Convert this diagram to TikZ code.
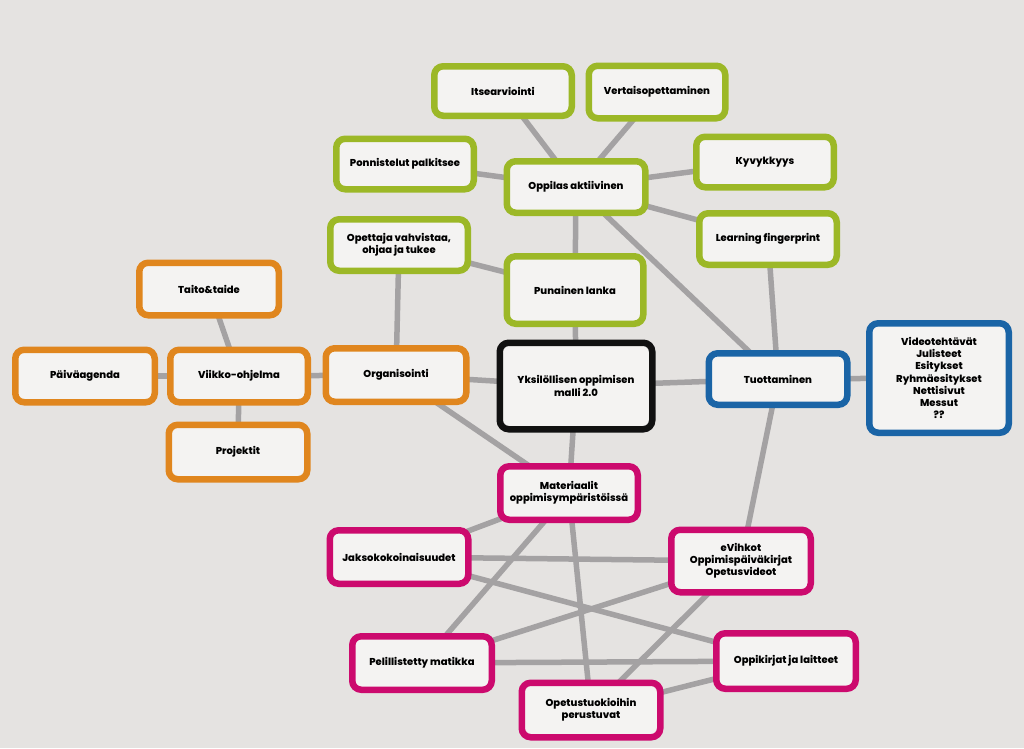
\documentclass[tikz,border=0pt]{standalone}
\usepackage{fontspec}
\setmainfont{Poppins}[BoldFont={Poppins ExtraBold}]
\definecolor{bgc}{HTML}{E5E3E1}
\definecolor{boxfill}{HTML}{F4F3F2}
\definecolor{edgec}{HTML}{A4A2A3}
\definecolor{cgreen}{HTML}{9CB827}
\definecolor{corange}{HTML}{E0861E}
\definecolor{cblue}{HTML}{1A64A6}
\definecolor{cmag}{HTML}{CC0A6E}
\definecolor{cblack}{HTML}{111111}
\pgfdeclarelayer{bg}
\pgfdeclarelayer{edges}
\pgfsetlayers{bg,edges,main}
\tikzset{
  box/.style={draw, rounded corners=9pt, line width=6.5pt, fill=boxfill, align=center,
    inner sep=2pt, font=\fontsize{10}{12.2}\selectfont\bfseries, text=black},
  gbox/.style={box, draw=cgreen},
  obox/.style={box, draw=corange},
  bbox/.style={box, draw=cblue},
  mbox/.style={box, draw=cmag},
  kbox/.style={box, draw=cblack},
  link/.style={draw=edgec, line width=5.5pt}
}
\begin{document}
\begin{tikzpicture}[x=1pt,y=-1pt]
\begin{pgfonlayer}{bg}
\fill[bgc] (0,0) rectangle (1024,748);
\end{pgfonlayer}
\useasboundingbox (0,0) rectangle (1024,748);
% green
\node[gbox, minimum width=137.5pt, minimum height=49.5pt] (its) at (503,91) {Itsearviointi};
\node[gbox, minimum width=136.5pt, minimum height=52.5pt] (ver) at (657,92) {Vertaisopettaminen};
\node[gbox, minimum width=137.5pt, minimum height=50.5pt] (pon) at (405,164) {Ponnistelut palkitsee};
\node[gbox, minimum width=138.5pt, minimum height=51.5pt] (opp) at (576,187) {Oppilas aktiivinen};
\node[gbox, minimum width=137.5pt, minimum height=50.5pt] (kyv) at (765,162) {Kyvykkyys};
\node[gbox, minimum width=137.5pt, minimum height=51.5pt] (lea) at (768,239) {Learning fingerprint};
\node[gbox, minimum width=137.5pt, minimum height=51.5pt] (ope) at (399,245) {Opettaja vahvistaa,\\ohjaa ja tukee};
\node[gbox, minimum width=136.5pt, minimum height=67.5pt] (pun) at (575,290) {Punainen lanka};
% orange
\node[obox, minimum width=139.5pt, minimum height=52.5pt] (tai) at (209,289) {Taito\&taide};
\node[obox, minimum width=139.5pt, minimum height=52.5pt] (pai) at (85,376) {Päiväagenda};
\node[obox, minimum width=137.5pt, minimum height=52.5pt] (vii) at (239,376) {Viikko-ohjelma};
\node[obox, minimum width=140.5pt, minimum height=53.5pt] (org) at (396,375) {Organisointi};
\node[obox, minimum width=138.5pt, minimum height=54.5pt] (pro) at (238,452) {Projektit};
% center
\node[kbox, minimum width=152.5pt, minimum height=86.5pt] (yks) at (576,386) {Yksilöllisen oppimisen\\malli 2.0};
% blue
\node[bbox, minimum width=138.5pt, minimum height=51.5pt] (tuo) at (778,379) {Tuottaminen};
\node[bbox, minimum width=139.5pt, minimum height=109.5pt] (vid) at (939,378) {Videotehtävät\\Julisteet\\Esitykset\\Ryhmäesitykset\\Nettisivut\\Messut\\??};
% magenta
\node[mbox, minimum width=137.5pt, minimum height=53.5pt] (mat) at (569,493) {Materiaalit\\oppimisympäristöissä};
\node[mbox, minimum width=138.5pt, minimum height=53.5pt] (jak) at (399,557) {Jaksokokoinaisuudet};
\node[mbox, minimum width=139.5pt, minimum height=62.5pt] (evi) at (741,561) {eVihkot\\Oppimispäiväkirjat\\Opetusvideot};
\node[mbox, minimum width=139.5pt, minimum height=53.5pt] (pel) at (422,663) {Pelillistetty matikka};
\node[mbox, minimum width=139.5pt, minimum height=55.5pt] (opk) at (786,661) {Oppikirjat ja laitteet};
\node[mbox, minimum width=138.5pt, minimum height=54.5pt] (opt) at (591,710) {Opetustuokioihin\\perustuvat};
\begin{pgfonlayer}{edges}
\draw[link] (its.center) -- (opp.center);
\draw[link] (ver.center) -- (opp.center);
\draw[link] (pon.center) -- (opp.center);
\draw[link] (opp.center) -- (kyv.center);
\draw[link] (opp.center) -- (lea.center);
\draw[link] (opp.center) -- (pun.center);
\draw[link] (opp.center) -- (tuo.center);
\draw[link] (lea.center) -- (tuo.center);
\draw[link] (ope.center) -- (pun.center);
\draw[link] (ope.center) -- (org.center);
\draw[link] (pun.center) -- (yks.center);
\draw[link] (tai.center) -- (vii.center);
\draw[link] (pai.center) -- (vii.center);
\draw[link] (vii.center) -- (org.center);
\draw[link] (vii.center) -- (pro.center);
\draw[link] (org.center) -- (yks.center);
\draw[link] (org.center) -- (mat.center);
\draw[link] (yks.center) -- (tuo.center);
\draw[link] (tuo.center) -- (vid.center);
\draw[link] (yks.center) -- (mat.center);
\draw[link] (tuo.center) -- (evi.center);
\draw[link] (mat.center) -- (jak.center);
\draw[link] (mat.center) -- (pel.center);
\draw[link] (mat.center) -- (opt.center);
\draw[link] (jak.center) -- (evi.center);
\draw[link] (jak.center) -- (opk.center);
\draw[link] (evi.center) -- (pel.center);
\draw[link] (evi.center) -- (opt.center);
\draw[link] (pel.center) -- (opk.center);
\draw[link] (opt.center) -- (opk.center);
\end{pgfonlayer}
\end{tikzpicture}
\end{document}
